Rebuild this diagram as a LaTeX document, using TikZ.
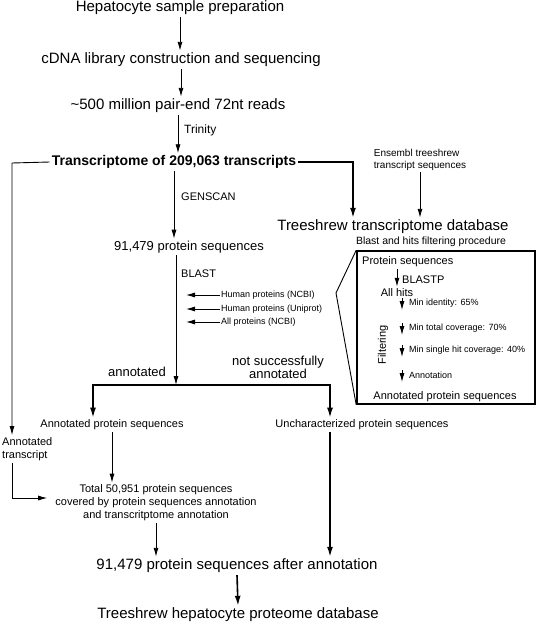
\documentclass[tikz,border=0pt]{standalone}
\usepackage{fontspec}
\setmainfont{Liberation Sans}
\usetikzlibrary{arrows.meta,positioning,calc}
\tikzset{
  hepArrow/.style={-{Latex[length=9pt,width=5pt]}, line width=0.9pt},
  hepBar/.style={line width=1.6pt},
  hepThick/.style={hepBar, -{Latex[length=10pt,width=6pt]}},
  hepBig/.style={font=\fontsize{15}{18}\selectfont, inner sep=2pt},
  hepMid/.style={font=\fontsize{13}{15}\selectfont, inner sep=2pt, align=center},
  hepSmall/.style={font=\fontsize{11}{13}\selectfont, inner sep=2pt, align=center},
  hepTiny/.style={font=\fontsize{9}{11}\selectfont, inner sep=1pt},
  hepFrame/.style={draw, line width=1.6pt, minimum width=178pt, minimum height=153pt, inner sep=0pt}
}
\begin{document}
\begin{tikzpicture}[x=1pt, y=-1pt]
  \useasboundingbox (0,0) rectangle (538,624);

  % main pipeline
  \node[hepBig] (prep) at (180,8) {Hepatocyte sample preparation};
  \node[hepBig] (cdna) at (181,60) {cDNA library construction and sequencing};
  \node[hepBig] (reads) at (178,106) {\textasciitilde500 million pair-end 72nt reads};
  \node[hepBig, font=\fontsize{14}{17}\selectfont\bfseries] (trans) at (174,162) {Transcriptome of 209,063 transcripts};
  \node[hepTiny, font=\fontsize{10}{12}\selectfont, align=left] (ensembl) at (420,160) {Ensembl treeshrew\\transcript sequences};
  \node[hepBig, inner sep=0pt] (tdb) at (393,227) {Treeshrew transcriptome database};
  \node[hepMid] (prot) at (189,247) {91,479 protein sequences};

  \foreach \a/\b in {prep/cdna,cdna/reads,reads/trans}
    \draw[hepArrow] (\a.south) -- (\a.south |- \b.north);
  \node[hepSmall, font=\fontsize{12}{14}\selectfont, anchor=west] (trinity) at (182,130) {Trinity};
  \draw[hepArrow] (trans.south) -- (trans.south |- prot.north);
  \node[hepSmall, anchor=west] (genscan) at (179,197) {GENSCAN};
  \draw[hepThick] (trans.east) -| ($(tdb.north)+(-40,-2)$);
  \draw[hepArrow] (ensembl.south) -- ($(ensembl.south |- tdb.north)+(0,-2)$);

  % blast and filtering box
  \node[font=\fontsize{10.5}{12}\selectfont, inner sep=0pt] (blastproc) at (431,241.5) {Blast and hits filtering procedure};
  \node[hepFrame] (frame) at (446,327.5) {};
  \node[hepSmall, anchor=west] (pseq) at (360,262) {Protein sequences};
  \node[hepSmall] (hits) at (397,293) {All hits};
  \draw[hepArrow] (hits.north |- pseq.south) -- (hits.north);
  \node[hepSmall, anchor=west] (blastp) at (400,280) {BLASTP};
  \node[hepSmall, rotate=90] (filt) at (383,345) {Filtering};
  \foreach \i/\y/\txt in {1/298/{Min identity: 65\%},2/323/{Min total coverage: 70\%},3/345/{Min single hit coverage: 40\%},4/370/{Annotation}} {
    \coordinate (fstep\i) at (402,\y);
    \draw[hepArrow] (fstep\i) -- ++(0,12);
    \node[hepTiny, anchor=west] (fstepLbl\i) at (408,\y+5) {\txt};
  }
  \node[hepSmall] (annprot) at (445,397) {Annotated protein sequences};
  \coordinate (apex) at (336,293);
  \draw[line width=0.9pt] (frame.north west) -- (apex) -- (frame.south west);

  % databases searched
  \node[hepSmall, anchor=west] (blast) at (179,274) {BLAST};
  \foreach \i/\y/\db in {1/295/{Human proteins (NCBI)},2/309/{Human proteins (Uniprot)},3/322/{All proteins (NCBI)}} {
    \node[hepTiny, anchor=west] (db\i) at (220,\y) {\db};
    \draw[hepArrow] (db\i.west) -- ++(-34,0);
  }

  % annotation split
  \coordinate (split) at (176,385);
  \coordinate (barL) at (93,385);
  \coordinate (barR) at (330,385);
  \node[hepSmall] (annseq) at (112,425) {Annotated protein sequences};
  \node[hepSmall] (unchar) at (362,425) {Uncharacterized protein sequences};
  \draw[hepArrow] (prot.south -| split) -- (split);
  \draw[hepBar, {Latex[length=10pt,width=6pt]}-{Latex[length=10pt,width=6pt]}]
    (barL |- annseq.north) -- (barL) -- (barR) -- (barR |- unchar.north);
  \node[hepMid] (yesLbl) at (137,372) {annotated};
  \node[hepMid, font=\fontsize{13}{13}\selectfont] (noLbl) at (278,367) {not successfully\\annotated};

  % merging
  \node[hepSmall, align=left, anchor=west] (anntr) at (0,449) {Annotated\\transcript};
  \node[hepSmall] (total) at (156,503) {Total 50,951 protein sequences\\covered by protein sequences annotation\\and transcritptome annotation};
  \node[hepBig] (after) at (237,566) {91,479 protein sequences after annotation};
  \node[hepBig] (final) at (238,615) {Treeshrew hepatocyte proteome database};

  \coordinate (leftTop) at (12,163);
  \coordinate (leftBot) at (12,498);
  \draw[hepArrow] (trans.west) -- (leftTop) -- (leftTop |- anntr.north);
  \draw[hepArrow] (leftTop |- anntr.south) -- (leftBot) -- ($(total.west |- leftBot)+(-6,0)$);
  \draw[hepArrow] (annseq.south) -- (annseq.south |- total.north);
  \draw[hepArrow] (total.south) -- (total.south |- after.north);
  \draw[hepThick] (unchar.south -| barR) -- (after.north -| barR);
  \draw[hepThick] (after.south) -- (final.north);
\end{tikzpicture}
\end{document}
